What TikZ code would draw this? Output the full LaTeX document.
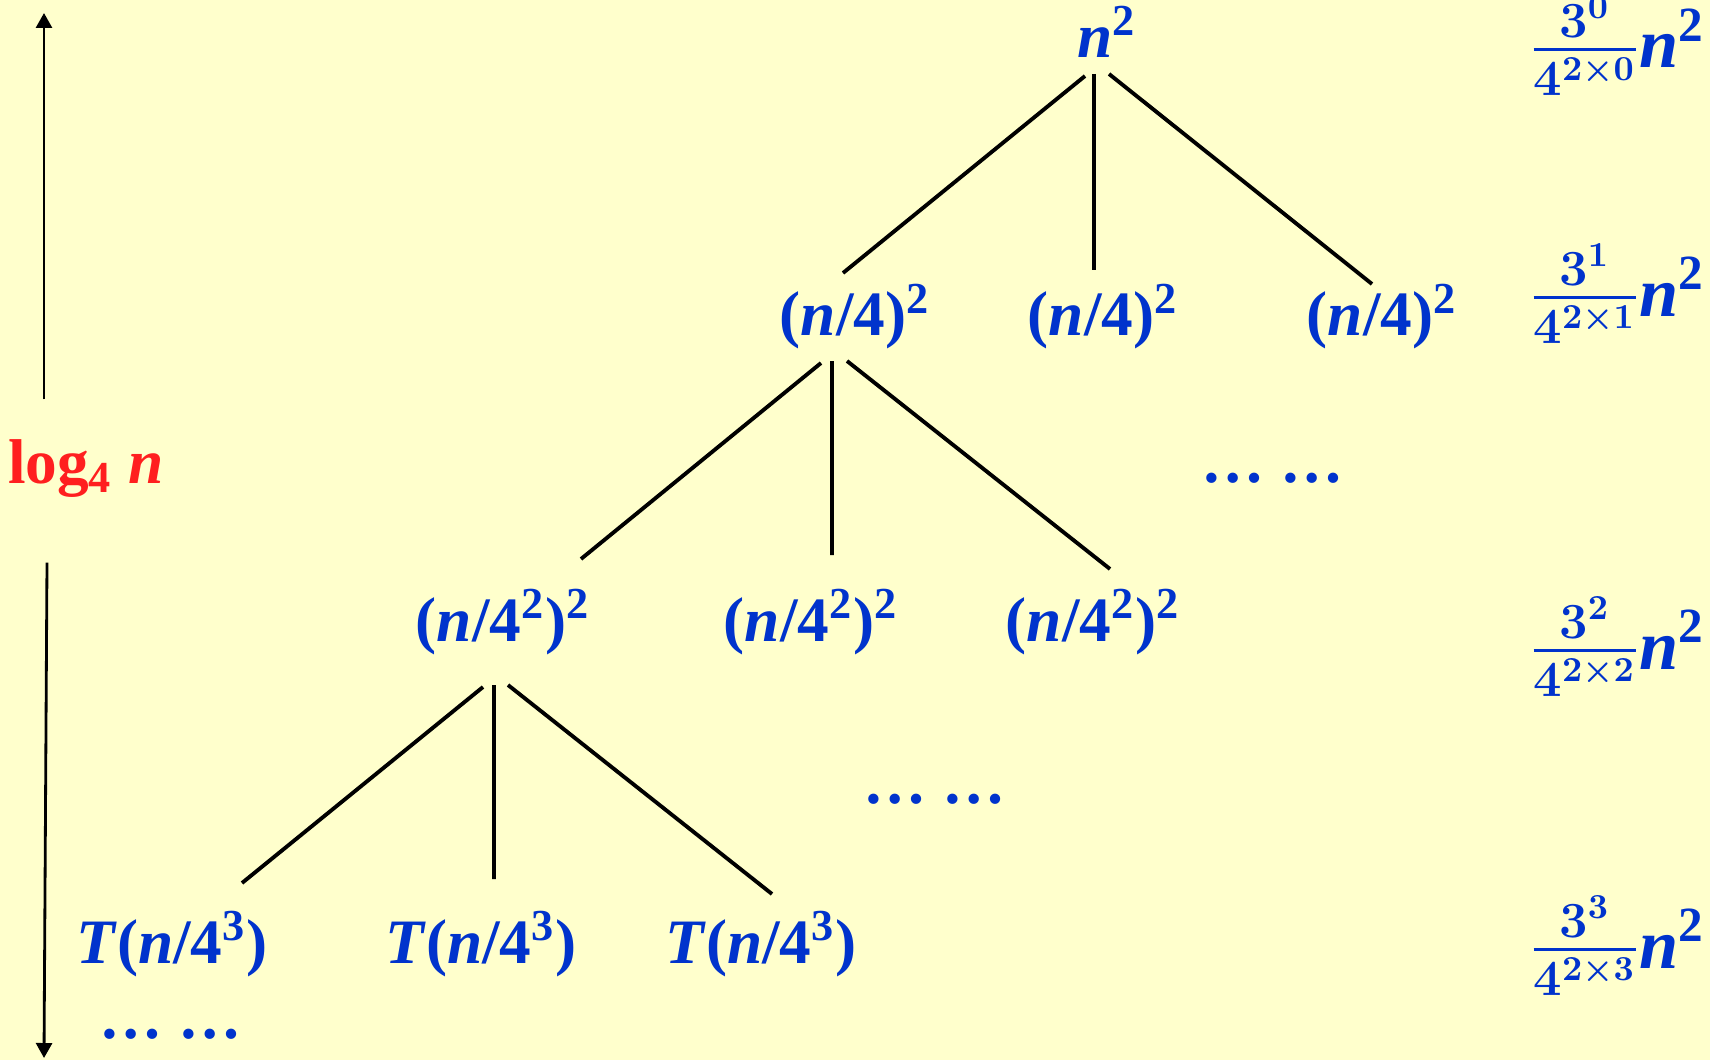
\documentclass[tikz,border=0pt]{standalone}
\usepackage{amsmath}
\usepackage{fontspec}
\setmainfont{Liberation Serif}
\usetikzlibrary{arrows.meta,calc}
\definecolor{paper}{HTML}{FFFFCC}
\definecolor{treeblue}{HTML}{0033CC}
\definecolor{logred}{HTML}{FF1F1F}
\tikzset{
  term/.style={font=\fontsize{18}{22}\selectfont\bfseries,text=treeblue,
               inner sep=0pt,anchor=base},
  sumterm/.style={font=\fontsize{20}{24}\selectfont\boldmath\bfseries,text=treeblue,
                  inner sep=0pt,anchor=base east},
  branch/.style={line width=1.1pt},
  levelarr/.style={-{Triangle[length=1.5mm,width=1.6mm]},line width=0.8pt}
}

\begin{document}
\begin{tikzpicture}
  \useasboundingbox (0,0) rectangle (17.10,-10.60);
  \fill[paper] (0,0) rectangle (17.10,-10.60);

  % recursion tree, one row per level
  \node[term] (root) at (11.07,-0.58) {\textit{n}\textsuperscript{2}};
  \node[term] (a1) at (8.55,-3.36) {(\textit{n}/4)\textsuperscript{2}};
  \node[term] (a2) at (11.03,-3.36) {(\textit{n}/4)\textsuperscript{2}};
  \node[term] (a3) at (13.82,-3.36) {(\textit{n}/4)\textsuperscript{2}};
  \node[term] (b1) at (5.03,-6.41) {(\textit{n}/4\textsuperscript{2})\textsuperscript{2}};
  \node[term] (b2) at (8.11,-6.41) {(\textit{n}/4\textsuperscript{2})\textsuperscript{2}};
  \node[term] (b3) at (10.93,-6.41) {(\textit{n}/4\textsuperscript{2})\textsuperscript{2}};
  \node[term] (c1) at (1.72,-9.63) {\textit{T}(\textit{n}/4\textsuperscript{3})};
  \node[term] (c2) at (4.81,-9.63) {\textit{T}(\textit{n}/4\textsuperscript{3})};
  \node[term] (c3) at (7.61,-9.63) {\textit{T}(\textit{n}/4\textsuperscript{3})};

  % elided subtrees
  \node[term] (dots1) at (12.73,-4.82) {… …};
  \node[term] (dots2) at (9.35,-8.03) {… …};
  \node[term] (dots3) at (1.71,-10.38) {… …};

  % branches
  \draw[branch] ($(root.base)+(-0.22,-0.18)$) -- ($(a1.base)+(-0.12,0.63)$);
  \draw[branch] ($(root.base)+(-0.13,-0.16)$) -- ($(a2.base)+(-0.09,0.66)$);
  \draw[branch] ($(root.base)+(0.02,-0.16)$) -- ($(a3.base)+(-0.10,0.52)$);
  \draw[branch] ($(a1.base)+(-0.34,-0.27)$) -- ($(b1.base)+(0.78,0.82)$);
  \draw[branch] ($(a1.base)+(-0.23,-0.25)$) -- ($(b2.base)+(0.21,0.86)$);
  \draw[branch] ($(a1.base)+(-0.08,-0.25)$) -- ($(b3.base)+(0.17,0.72)$);
  \draw[branch] ($(b1.base)+(-0.20,-0.46)$) -- ($(c1.base)+(0.70,0.80)$);
  \draw[branch] ($(b1.base)+(-0.09,-0.44)$) -- ($(c2.base)+(0.13,0.84)$);
  \draw[branch] ($(b1.base)+(0.05,-0.44)$) -- ($(c3.base)+(0.11,0.69)$);

  % height of the tree
  \node[term,text=logred] (logn) at (0.86,-4.83) {log\textsubscript{4} \textit{n}};
  \coordinate (top) at (0.44,-0.13);
  \coordinate (bottom) at (0.44,-10.58);
  \draw[levelarr,shorten <=0.39cm] (logn.north -| top) -- (top);
  \draw[levelarr] ($(logn.south -| top)+(0.03,-0.65)$) -- (bottom);

  % cost per level
  \foreach \k/\y in {0/0.68,1/3.16,2/6.69,3/9.68}
    \node[sumterm] (s\k) at (17.06,-\y)
      {$\tfrac{3^{\k}}{4^{2\times\k}}$\textit{n}\textsuperscript{2}};
\end{tikzpicture}
\end{document}
